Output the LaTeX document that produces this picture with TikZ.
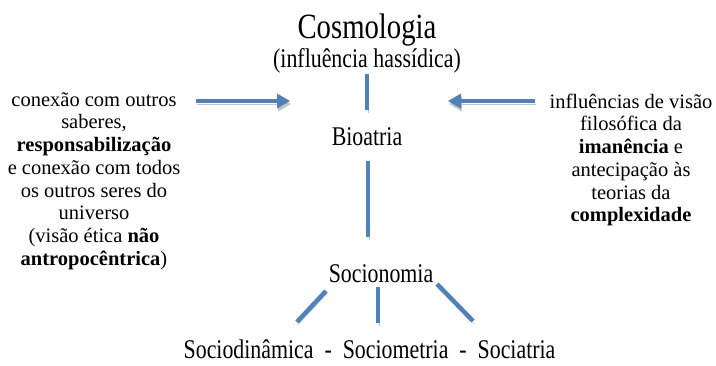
\documentclass[tikz,border=0pt]{standalone}
\usepackage{fontspec}
\setmainfont{Liberation Serif}
\usetikzlibrary{arrows.meta}
\definecolor{barblue}{HTML}{4F81BD}
\definecolor{shadowgray}{HTML}{C4C4C4}
\tikzset{
  bar/.style={line width=4.5pt, draw=barblue,
    preaction={draw=shadowgray, transform canvas={shift={(1,3)}}}},
  arrowbar/.style={bar, -{Triangle[length=13pt,width=15pt,line width=0pt]}},
  tnr/.style={inner sep=0pt, xscale=0.81},
  side/.style={inner sep=0pt, align=center, font=\fontsize{20.5}{22.7}\selectfont}
}
\begin{document}
\begin{tikzpicture}[x=1pt,y=-1pt]
\useasboundingbox (0,0) rectangle (716,365);
% titles
\node[tnr, anchor=base, font=\fontsize{35.5}{40}\selectfont] (cosmo) at (367,38) {Cosmologia};
\node[tnr, anchor=base, font=\fontsize{27}{30}\selectfont] (sub) at (367,67) {(influência hassídica)};
\node[tnr, anchor=base, font=\fontsize{27}{30}\selectfont] (bio) at (367,145) {Bioatria};
\node[tnr, anchor=base, font=\fontsize{27}{30}\selectfont] (socio) at (381,282) {Socionomia};
\node[tnr, anchor=base, font=\fontsize{27}{30}\selectfont] (bottom) at (369.5,358.5) {Sociodinâmica\ \ -\ \ Sociometria\ \ -\ \ Sociatria};
% side texts
\node[side] (left) at (94,181) {conexão com outros\\saberes,\\\textbf{responsabilização}\\e conexão com todos\\os outros seres do\\universo\\(visão ética \textbf{não}\\\textbf{antropocêntrica})};
\node[side] (right) at (631,160) {influências de visão\\filosófica da\\\textbf{imanência} e\\antecipação às\\teorias da\\\textbf{complexidade}};
% connector end points
\coordinate (b1a) at (367,74);
\coordinate (b1b) at (367,110);
\coordinate (b2a) at (368,161);
\coordinate (b2b) at (368,237);
\coordinate (la) at (196,101);
\coordinate (lb) at (290,101);
\coordinate (ra) at (535,101);
\coordinate (rb) at (448,101);
\coordinate (d1a) at (326,291);
\coordinate (d1b) at (297,322);
\coordinate (d2a) at (378,287);
\coordinate (d2b) at (378,323);
\coordinate (d3a) at (437,284);
\coordinate (d3b) at (473,321);
% connectors
\draw[bar] (b1a) -- (b1b);
\draw[bar] (b2a) -- (b2b);
\draw[arrowbar] (la) -- (lb);
\draw[arrowbar] (ra) -- (rb);
\draw[bar] (d1a) -- (d1b);
\draw[bar] (d2a) -- (d2b);
\draw[bar] (d3a) -- (d3b);
\end{tikzpicture}
\end{document}
